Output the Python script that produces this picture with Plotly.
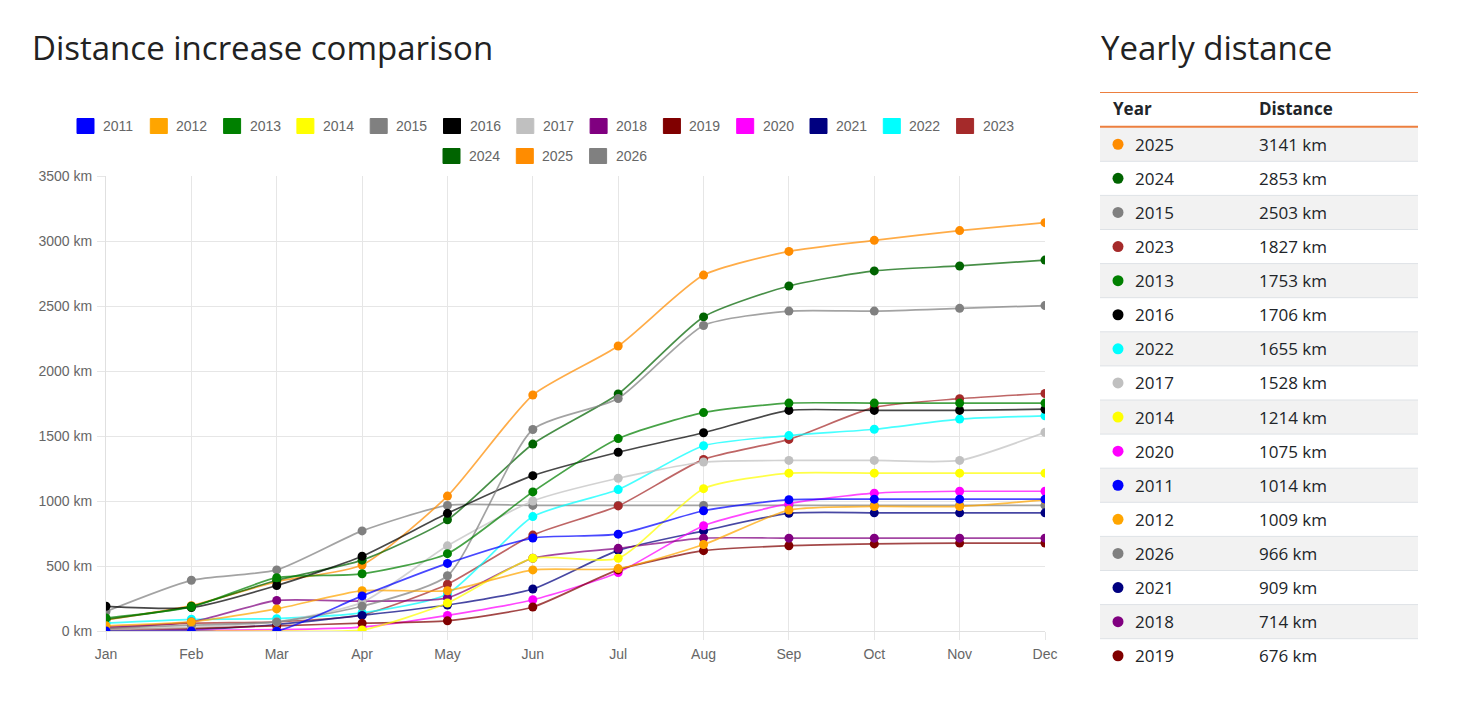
import plotly.graph_objects as go

# ---------------- data ----------------
months = ["Jan", "Feb", "Mar", "Apr", "May", "Jun", "Jul", "Aug", "Sep", "Oct", "Nov", "Dec"]
years = ["2011", "2012", "2013", "2014", "2015", "2016", "2017", "2018",
         "2019", "2020", "2021", "2022", "2023", "2024", "2025", "2026"]
colors = ["#0000FF", "#FFA500", "#008000", "#FFFF00", "#808080", "#000000", "#C0C0C0", "#800080",
          "#800000", "#FF00FF", "#000080", "#00FFFF", "#A52A2A", "#006400", "#FF8C00", "#808080"]

d2011 = [0, 0, 0, 270, 520, 715, 745, 925, 1010, 1014, 1014, 1014]
d2012 = [40, 70, 170, 310, 310, 470, 480, 665, 930, 958, 958, 1009]
d2013 = [100, 185, 410, 440, 595, 1070, 1480, 1680, 1753, 1753, 1753, 1753]
d2014 = [0, 0, 0, 8, 215, 560, 560, 1095, 1214, 1214, 1214, 1214]
d2015 = [20, 45, 70, 190, 425, 1550, 1788, 2350, 2461, 2461, 2482, 2503]
d2016 = [190, 180, 350, 575, 905, 1195, 1375, 1525, 1697, 1697, 1697, 1706]
d2017 = [10, 30, 70, 220, 655, 1000, 1175, 1300, 1312, 1312, 1312, 1528]
d2018 = [30, 70, 235, 230, 255, 560, 636, 714, 714, 714, 714, 714]
d2019 = [10, 20, 40, 60, 78, 185, 470, 618, 656, 670, 676, 676]
d2020 = [0, 5, 10, 30, 120, 240, 450, 810, 980, 1060, 1075, 1075]
d2021 = [0, 10, 50, 120, 200, 323, 620, 770, 905, 909, 909, 909]
d2022 = [60, 90, 95, 140, 285, 880, 1088, 1425, 1503, 1552, 1630, 1655]
d2023 = [20, 60, 70, 125, 360, 738, 962, 1320, 1474, 1720, 1787, 1827]
d2024 = [90, 190, 390, 545, 855, 1438, 1823, 2416, 2654, 2770, 2808, 2853]
d2025 = [85, 195, 380, 508, 1038, 1815, 2192, 2738, 2920, 3005, 3080, 3141]
d2026 = [150, 390, 470, 770, 966, 966, 966, 966, 966, 966, 966, 966]

series = [d2011, d2012, d2013, d2014, d2015, d2016, d2017, d2018,
          d2019, d2020, d2021, d2022, d2023, d2024, d2025, d2026]

# ---------------- layout helpers ----------------
W, H = 1477, 702
PL, PR, PT, PB = 106, 1045, 176, 631  # plot area in pixels


def fx(x):
    return (x - PL) / (PR - PL)


def fy(y):
    return (PB - y) / (PB - PT)


def rgba(hexcol, a):
    h = hexcol.lstrip("#")
    r, g, b = int(h[0:2], 16), int(h[2:4], 16), int(h[4:6], 16)
    return f"rgba({r},{g},{b},{a})"


TITLE_FONT = "Open Sans"
TICK_FONT = "Liberation Sans, Arial, sans-serif"

fig = go.Figure()

# Chart.js draws first dataset on top -> add in reverse
for yr, col, vals in reversed(list(zip(years, colors, series))):
    fig.add_trace(go.Scatter(
        x=list(range(len(months))), y=vals, name=yr,
        mode="lines+markers",
        line=dict(color=rgba(col, 0.72), width=1.7, shape="spline", smoothing=0.6),
        marker=dict(color=col, size=9),
        showlegend=False,
        hovertemplate="%{y} km<extra>" + yr + "</extra>",
    ))

shapes = []
annotations = []

# titles
annotations.append(dict(text="Distance increase comparison", x=fx(30), y=fy(48), xref="paper", yref="paper",
                        xanchor="left", yanchor="middle", showarrow=False,
                        font=dict(family=TITLE_FONT, size=33, color="#222222")))
annotations.append(dict(text="Yearly distance", x=fx(1099), y=fy(48), xref="paper", yref="paper",
                        xanchor="left", yanchor="middle", showarrow=False,
                        font=dict(family=TITLE_FONT, size=33, color="#222222")))

# custom legend (Chart.js style)
ITEM_W = 73.3
row1 = list(range(13))
row2 = list(range(13, 16))
for rowitems, start_x, yc in [(row1, 77, 126), (row2, 443, 156)]:
    for k, idx in enumerate(rowitems):
        x0 = start_x + k * ITEM_W
        shapes.append(dict(type="rect", xref="paper", yref="paper",
                           x0=fx(x0), x1=fx(x0 + 17), y0=fy(yc - 7.5), y1=fy(yc + 7.5),
                           fillcolor=colors[idx], line=dict(color=colors[idx], width=1)))
        annotations.append(dict(text=years[idx], x=fx(x0 + 24), y=fy(yc), xref="paper", yref="paper",
                                xanchor="left", yanchor="middle", showarrow=False,
                                font=dict(family=TICK_FONT, size=14, color="#666666")))

# table on the right
TX0, TX1 = 1100, 1418
ORANGE = "#EC7F3F"
ROW_H = 34.1
ROW_TOP = 127.2
shapes.append(dict(type="line", xref="paper", yref="paper", x0=fx(TX0), x1=fx(TX1), y0=fy(92.5), y1=fy(92.5),
                   line=dict(color=ORANGE, width=1)))
annotations.append(dict(text="<b>Year</b>", x=fx(1111), y=fy(108.5), xref="paper", yref="paper",
                        xanchor="left", yanchor="middle", showarrow=False,
                        font=dict(family=TITLE_FONT, size=17, color="#212529")))
annotations.append(dict(text="<b>Distance</b>", x=fx(1257), y=fy(108.5), xref="paper", yref="paper",
                        xanchor="left", yanchor="middle", showarrow=False,
                        font=dict(family=TITLE_FONT, size=17, color="#212529")))

totals = [s[-1] for s in series]
order = sorted(range(len(years)), key=lambda i: -totals[i])
for r, idx in enumerate(order):
    top = ROW_TOP + r * ROW_H
    yc = top + ROW_H / 2
    if r % 2 == 0:
        shapes.append(dict(type="rect", xref="paper", yref="paper", x0=fx(TX0), x1=fx(TX1),
                           y0=fy(top), y1=fy(top + ROW_H), fillcolor="#F2F2F2", line=dict(width=0),
                           layer="below"))
    if r < len(order) - 1:
        shapes.append(dict(type="line", xref="paper", yref="paper", x0=fx(TX0), x1=fx(TX1),
                           y0=fy(top + ROW_H), y1=fy(top + ROW_H), line=dict(color="#DEE2E6", width=1)))
    shapes.append(dict(type="circle", xref="paper", yref="paper",
                       x0=fx(1112.5), x1=fx(1123.5), y0=fy(yc - 5.5), y1=fy(yc + 5.5),
                       fillcolor=colors[idx], line=dict(width=0)))
    annotations.append(dict(text=years[idx], x=fx(1133), y=fy(yc), xref="paper", yref="paper",
                            xanchor="left", yanchor="middle", showarrow=False,
                            font=dict(family=TITLE_FONT, size=17, color="#212529")))
    annotations.append(dict(text=f"{totals[idx]} km", x=fx(1257), y=fy(yc), xref="paper", yref="paper",
                            xanchor="left", yanchor="middle", showarrow=False,
                            font=dict(family=TITLE_FONT, size=17, color="#212529")))

shapes.append(dict(type="line", xref="paper", yref="paper", x0=fx(TX0), x1=fx(TX1), y0=fy(126.7), y1=fy(126.7),
                   line=dict(color=ORANGE, width=2)))

fig.update_layout(
    width=W, height=H,
    margin=dict(l=PL, r=W - PR, t=PT, b=H - PB, pad=0),
    paper_bgcolor="white", plot_bgcolor="white",
    shapes=shapes, annotations=annotations,
    xaxis=dict(range=[0, 11], tickvals=list(range(12)), ticktext=months,
               showgrid=True, gridcolor="#E6E6E6", gridwidth=1,
               showline=True, linecolor="#E0E0E0", linewidth=1,
               ticks="outside", ticklen=8, tickcolor="#E6E6E6",
               zeroline=False, fixedrange=True, ticklabelstandoff=2,
               tickfont=dict(family=TICK_FONT, size=14, color="#666666")),
    yaxis=dict(range=[0, 3500], dtick=500, tick0=0, ticksuffix=" km",
               showgrid=True, gridcolor="#E6E6E6", gridwidth=1,
               showline=True, linecolor="#E0E0E0", linewidth=1,
               ticks="outside", ticklen=8, tickcolor="#E6E6E6",
               zeroline=False, fixedrange=True, ticklabelstandoff=2,
               tickfont=dict(family=TICK_FONT, size=14, color="#666666")),
    showlegend=False,
)

fig.write_html("out.html")
